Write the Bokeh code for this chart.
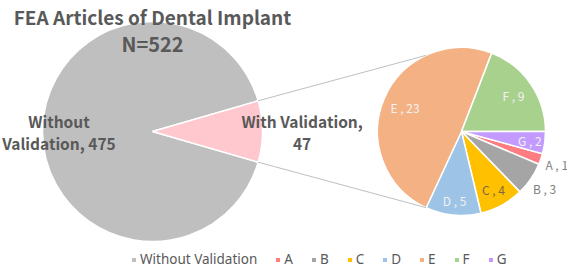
import math
from bokeh.plotting import figure
from bokeh.models import Range1d, Legend, LegendItem, ColumnDataSource
from bokeh.core.properties import value
from bokeh.embed import file_html
from bokeh.resources import INLINE

# ---- data ----
title_text = "FEA Articles of Dental Implant"
subtitle_text = "N=522"
main_labels = ["Without Validation", "With Validation"]
main_values = [475, 47]
sub_labels = ["A", "B", "C", "D", "E", "F", "G"]
sub_values = [1, 3, 4, 5, 23, 9, 2]
# clockwise drawing order of the secondary pie, starting at 3 o'clock
sub_order = ["G", "A", "B", "C", "D", "E", "F"]

# ---- styles ----
W, H = 567, 268
FONT = "Noto Sans CJK JP"
LFONT = "Noto Sans"
TXT = "#595959"
main_colors = ["#BFBFBF", "#FFC7CE"]
sub_colors = {"A": "#FF7C80", "B": "#A5A5A5", "C": "#FFC000", "D": "#9DC3E6",
              "E": "#F4B183", "F": "#A9D18E", "G": "#C39BFF"}
sub_text_colors = {"A": "#7F7F7F", "B": "#7F7F7F", "C": "#7F6A3F", "D": "#F2F2F2",
                   "E": "#F2F2F2", "F": "#F2F2F2", "G": "#F2F2F2"}
sub_label_r = {"A": 1.2, "B": 1.2, "C": 0.79, "D": 0.83, "E": 0.73, "F": 0.75, "G": 0.82}

# layout (screen px, y measured from top, converted to data with y up)
C1 = (152, H - 131); R1 = 110
C2 = (461, H - 131); R2 = 84

p = figure(width=W, height=H, x_range=Range1d(0, W), y_range=Range1d(0, H),
           output_backend="svg", toolbar_location=None, min_border=0,
           x_axis_type=None, y_axis_type=None)
p.grid.visible = False
p.outline_line_color = None
p.background_fill_color = "white"
p.border_fill_color = "white"

# ---- main pie ----
total_main = sum(main_values)
half = math.pi * main_values[1] / total_main
main_src = ColumnDataSource(dict(
    label=main_labels,
    start=[half, -half],
    end=[2 * math.pi - half, half],
    color=main_colors,
))
r_main = p.wedge(x=C1[0], y=C1[1], radius=R1, start_angle="start", end_angle="end",
                 fill_color="color", line_color="white", line_width=1.5, source=main_src)

# ---- secondary pie ----
total_sub = sum(sub_values)
vals = dict(zip(sub_labels, sub_values))
starts, ends, cols, lx, ly, ltxt, lcol = [], [], [], [], [], [], []
theta = 0.0
ang_of = {}
for lab in sub_order:
    a = 2 * math.pi * vals[lab] / total_sub
    ang_of[lab] = (theta - a, theta)
    theta -= a
for lab in sub_labels:
    s, e = ang_of[lab]
    starts.append(s); ends.append(e); cols.append(sub_colors[lab])
    mid = (s + e) / 2
    rr = R2 * sub_label_r[lab]
    lx.append(C2[0] + rr * math.cos(mid))
    ly.append(C2[1] + rr * math.sin(mid))
    ltxt.append(f"{lab} , {vals[lab]}")
    lcol.append(sub_text_colors[lab])
sub_src = ColumnDataSource(dict(label=sub_labels, start=starts, end=ends, color=cols))
r_sub = p.wedge(x=C2[0], y=C2[1], radius=R2, start_angle="start", end_angle="end",
                fill_color="color", line_color="white", line_width=1.5, source=sub_src)

# ---- connector lines ----
link_ang = math.radians(115)
p.segment(x0=[C1[0] + R1 * math.cos(half), C1[0] + R1 * math.cos(-half)],
          y0=[C1[1] + R1 * math.sin(half), C1[1] + R1 * math.sin(-half)],
          x1=[C2[0] + R2 * math.cos(link_ang), C2[0] + R2 * math.cos(-link_ang)],
          y1=[C2[1] + R2 * math.sin(link_ang), C2[1] + R2 * math.sin(-link_ang)],
          line_color="#BFBFBF", line_width=1)

# ---- secondary labels ----
p.text(x=lx, y=ly, text=ltxt, text_color=lcol, text_font=value(FONT),
       text_font_size="12px", text_align="center", text_baseline="middle")

# ---- main labels ----
lab_main = [f"Without\nValidation, {main_values[0]}", f"With Validation,\n{main_values[1]}"]
lab_r = [0.85 * R1, 1.36 * R1]
lab_a = [math.pi, 0.0]
p.text(x=[C1[0] + r * math.cos(a) for r, a in zip(lab_r, lab_a)],
       y=[C1[1] + r * math.sin(a) for r, a in zip(lab_r, lab_a)],
       text=lab_main, text_color=TXT, text_font=value(FONT), text_font_style="bold",
       text_font_size="15.5px", text_align="center", text_baseline="middle",
       text_line_height=1.0)

# ---- title ----
p.text(x=[C1[0]], y=[H - 16], text=[title_text], text_color=TXT, text_font=value(FONT),
       text_font_style="bold", text_font_size="19px", text_align="center",
       text_baseline="alphabetic")
p.text(x=[C1[0]], y=[H - 43], text=[subtitle_text], text_color=TXT, text_font=value(FONT),
       text_font_style="bold", text_font_size="20px", text_align="center",
       text_baseline="alphabetic")

# ---- legend ----
items = [LegendItem(label=main_labels[0], renderers=[r_main], index=0)]
for i, lab in enumerate(sub_labels):
    items.append(LegendItem(label=lab, renderers=[r_sub], index=i))
legend = Legend(items=items, orientation="horizontal", location=(130, 0),
                glyph_width=7, glyph_height=7, label_standoff=3, spacing=17,
                label_width=0,
                label_text_font=LFONT, label_text_font_size="13.5px", label_text_color=TXT,
                label_height=12, padding=2, margin=0,
                border_line_color=None, background_fill_alpha=0)
p.add_layout(legend, "center")

open("out.html", "w").write(file_html(p, INLINE))
